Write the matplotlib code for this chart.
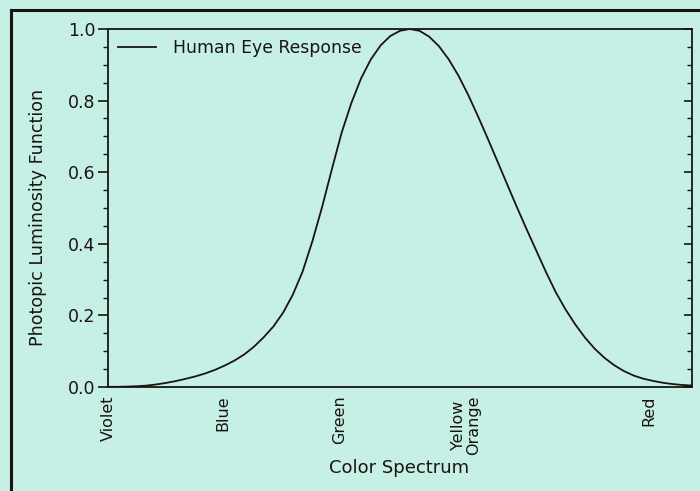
import matplotlib
matplotlib.use("Agg")
import matplotlib.pyplot as plt
from matplotlib.lines import Line2D
from matplotlib.ticker import MultipleLocator, FormatStrFormatter

# Wavelength (nm) and photopic luminosity values
wavelength = [400, 405, 410, 415, 420, 425, 430, 435, 440, 445, 450, 455,
              460, 465, 470, 475, 480, 485, 490, 495, 500, 505, 510, 515,
              520, 525, 530, 535, 540, 545, 550, 555, 560, 565, 570, 575,
              580, 585, 590, 595, 600, 605, 610, 615, 620, 625, 630, 635,
              640, 645, 650, 655, 660, 665, 670, 675, 680, 685, 690, 695, 700]
response = [0.0004, 0.0006, 0.0012, 0.0022, 0.0040, 0.0073, 0.0116, 0.0168,
            0.0230, 0.0298, 0.0380, 0.0480, 0.0600, 0.0739, 0.0910, 0.1126,
            0.1390, 0.1693, 0.2080, 0.2586, 0.3230, 0.4073, 0.5030, 0.6082,
            0.7100, 0.7932, 0.8620, 0.9149, 0.9540, 0.9803, 0.9950, 1.0000,
            0.9950, 0.9786, 0.9520, 0.9154, 0.8700, 0.8163, 0.7570, 0.6949,
            0.6310, 0.5668, 0.5030, 0.4412, 0.3810, 0.3210, 0.2650, 0.2170,
            0.1750, 0.1382, 0.1070, 0.0816, 0.0610, 0.0446, 0.0320, 0.0232,
            0.0170, 0.0119, 0.0082, 0.0057, 0.0041]

color_pos = [400, 459, 519, 584, 678]
color_names = ["Violet", "Blue", "Green", "Yellow\nOrange", "Red"]

BG = "#c6f0e5"
INK = "#1a1410"

W, H = 700, 491
fig = plt.figure(figsize=(W / 100, H / 100), dpi=100, facecolor=BG)
ax = fig.add_axes([108 / W, 1 - 387 / H, (692 - 108) / W, (387 - 29) / H])
ax.set_facecolor(BG)

ax.plot(wavelength, response, color=INK, lw=1.3, label="Human Eye Response")
ax.set_xlim(400, 700)
ax.set_ylim(0, 1.0)

for s in ax.spines.values():
    s.set_color(INK)
    s.set_linewidth(1.3)

ax.yaxis.set_major_locator(MultipleLocator(0.2))
ax.yaxis.set_minor_locator(MultipleLocator(0.05))
ax.yaxis.set_major_formatter(FormatStrFormatter("%.1f"))
ax.tick_params(axis="y", which="major", direction="out", length=7, width=1.2,
               color=INK, labelsize=12.5, labelcolor=INK, pad=2, right=True)
ax.tick_params(axis="y", which="minor", direction="out", length=3.5, width=1.0,
               color=INK, right=True)
# right-side ticks point inward
for t in ax.yaxis.get_major_ticks():
    t.tick2line.set_marker(matplotlib.lines.TICKLEFT)
    t.tick2line.set_markersize(6)
for t in ax.yaxis.get_minor_ticks():
    t.tick2line.set_marker(matplotlib.lines.TICKLEFT)
    t.tick2line.set_markersize(3.5)

ax.set_xticks(color_pos)
ax.set_xticklabels(color_names, rotation=90, va="top", ha="center",
                   fontsize=11.5, color=INK, linespacing=1.0)
ax.tick_params(axis="x", length=0, pad=6)

ax.set_ylabel("Photopic Luminosity Function", fontsize=12.6, color=INK)
ax.yaxis.set_label_coords((38 - 108) / 584, (387 - 217) / 358)
ax.set_xlabel("Color Spectrum", fontsize=13, color=INK)
ax.xaxis.set_label_coords((399 - 108) / 584, (387 - 468) / 358)
ax.xaxis.label.set_va("center")
ax.yaxis.label.set_va("center")

leg = ax.legend(loc="upper left", frameon=False, fontsize=12.4, handlelength=2.2,
                borderaxespad=0.2, handletextpad=1.0)
for txt in leg.get_texts():
    txt.set_color(INK)

# outer frame (left and top edges)
fig.add_artist(Line2D([11 / W, 11 / W], [0, 1 - 10 / H], transform=fig.transFigure,
                      color=INK, lw=2.2))
fig.add_artist(Line2D([11 / W, 1], [1 - 10 / H, 1 - 10 / H], transform=fig.transFigure,
                      color=INK, lw=2.2))

fig.savefig("out.png", dpi=100, facecolor=BG)
